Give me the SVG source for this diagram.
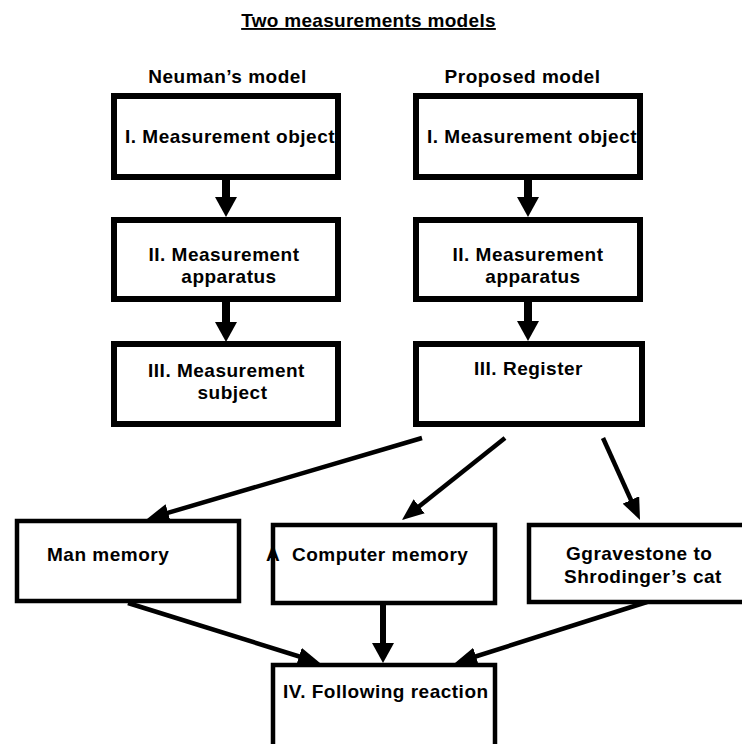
<svg xmlns="http://www.w3.org/2000/svg" width="742" height="744" viewBox="0 0 742 744">
<style>
text{font-family:"Liberation Sans",Arial,sans-serif;font-weight:bold;font-size:19px;letter-spacing:0.5px;fill:#000}
.mid{text-anchor:middle}
.big{fill:#fff;stroke:#000;stroke-width:6}
.box{fill:#fff;stroke:#000;stroke-width:4.5}
.thick{stroke:#000;stroke-width:8;fill:none}
.vert{stroke:#000;stroke-width:6;fill:none}
.diag{stroke:#000;stroke-width:4.5;fill:none}
</style>
<defs>
<marker id="hb" viewBox="0 0 20 22" refX="10" refY="11" markerWidth="20" markerHeight="22" markerUnits="userSpaceOnUse" orient="auto"><path d="M0,0 L20,11 L0,22 z" fill="#000"/></marker>
<marker id="hd" viewBox="0 0 22 18" refX="12" refY="9" markerWidth="22" markerHeight="18" markerUnits="userSpaceOnUse" orient="auto"><path d="M0,0 L22,9 L0,18 z" fill="#000"/></marker>
</defs>
<rect width="742" height="744" fill="#fff"/>
<g id="headers">
<text class="mid" x="368.5" y="27" style="letter-spacing:0.3px;text-decoration:underline">Two measurements models</text>
<text class="mid" x="227.5" y="83">Neuman’s model</text>
<text class="mid" x="522.5" y="83">Proposed model</text>
</g>
<g id="connectors">
<line class="thick" x1="226" y1="179" x2="226" y2="207" marker-end="url(#hb)"/>
<line class="thick" x1="226" y1="302" x2="226" y2="332" marker-end="url(#hb)"/>
<line class="thick" x1="528" y1="179" x2="528" y2="207" marker-end="url(#hb)"/>
<line class="thick" x1="528" y1="302" x2="528" y2="331" marker-end="url(#hb)"/>
<line class="diag" x1="422" y1="438" x2="156.6" y2="516.2" marker-end="url(#hd)"/>
<line class="diag" x1="505" y1="438" x2="409.8" y2="513.8" marker-end="url(#hd)"/>
<line class="diag" x1="603" y1="438" x2="635.9" y2="510.9" marker-end="url(#hd)"/>
<line class="diag" x1="128" y1="603" x2="310.5" y2="660" marker-end="url(#hd)"/>
<line class="vert" x1="383" y1="603" x2="383" y2="653" marker-end="url(#hb)"/>
<line class="diag" x1="647" y1="602" x2="464.5" y2="660" marker-end="url(#hd)"/>
</g>
<g id="n-object-left">
<rect class="big" x="114" y="96" width="224" height="81"/>
<text x="125" y="143">I. Measurement object</text>
</g>
<g id="n-apparatus-left">
<rect class="big" x="114" y="220" width="224" height="79"/>
<text class="mid" x="224" y="261">II. Measurement</text>
<text class="mid" x="229" y="283">apparatus</text>
</g>
<g id="n-subject-left">
<rect class="big" x="114" y="344" width="224" height="80"/>
<text class="mid" x="226.5" y="377">III. Measurement</text>
<text class="mid" x="232.5" y="399">subject</text>
</g>
<g id="n-object-right">
<rect class="big" x="416" y="96" width="224" height="81"/>
<text x="427" y="143">I. Measurement object</text>
</g>
<g id="n-apparatus-right">
<rect class="big" x="416" y="220" width="224" height="79"/>
<text class="mid" x="528" y="261">II. Measurement</text>
<text class="mid" x="533" y="283">apparatus</text>
</g>
<g id="n-register">
<rect class="big" x="416" y="344" width="226" height="80"/>
<text class="mid" x="528.5" y="375">III. Register</text>
</g>
<g id="n-man-memory">
<rect class="box" x="17" y="521" width="222" height="80"/>
<text x="47" y="561">Man memory</text>
</g>
<g id="n-computer-memory">
<rect class="box" x="273" y="525" width="222" height="78"/>
<text x="266" y="561">A</text>
<text x="292" y="561">Computer memory</text>
</g>
<g id="n-gravestone">
<rect class="box" x="529" y="525" width="230" height="77"/>
<text x="566" y="560">Ggravestone to</text>
<text x="564" y="583">Shrodinger’s cat</text>
</g>
<g id="n-following">
<rect class="box" x="273" y="665" width="222" height="100"/>
<text x="283" y="698">IV. Following reaction</text>
</g>
</svg>
